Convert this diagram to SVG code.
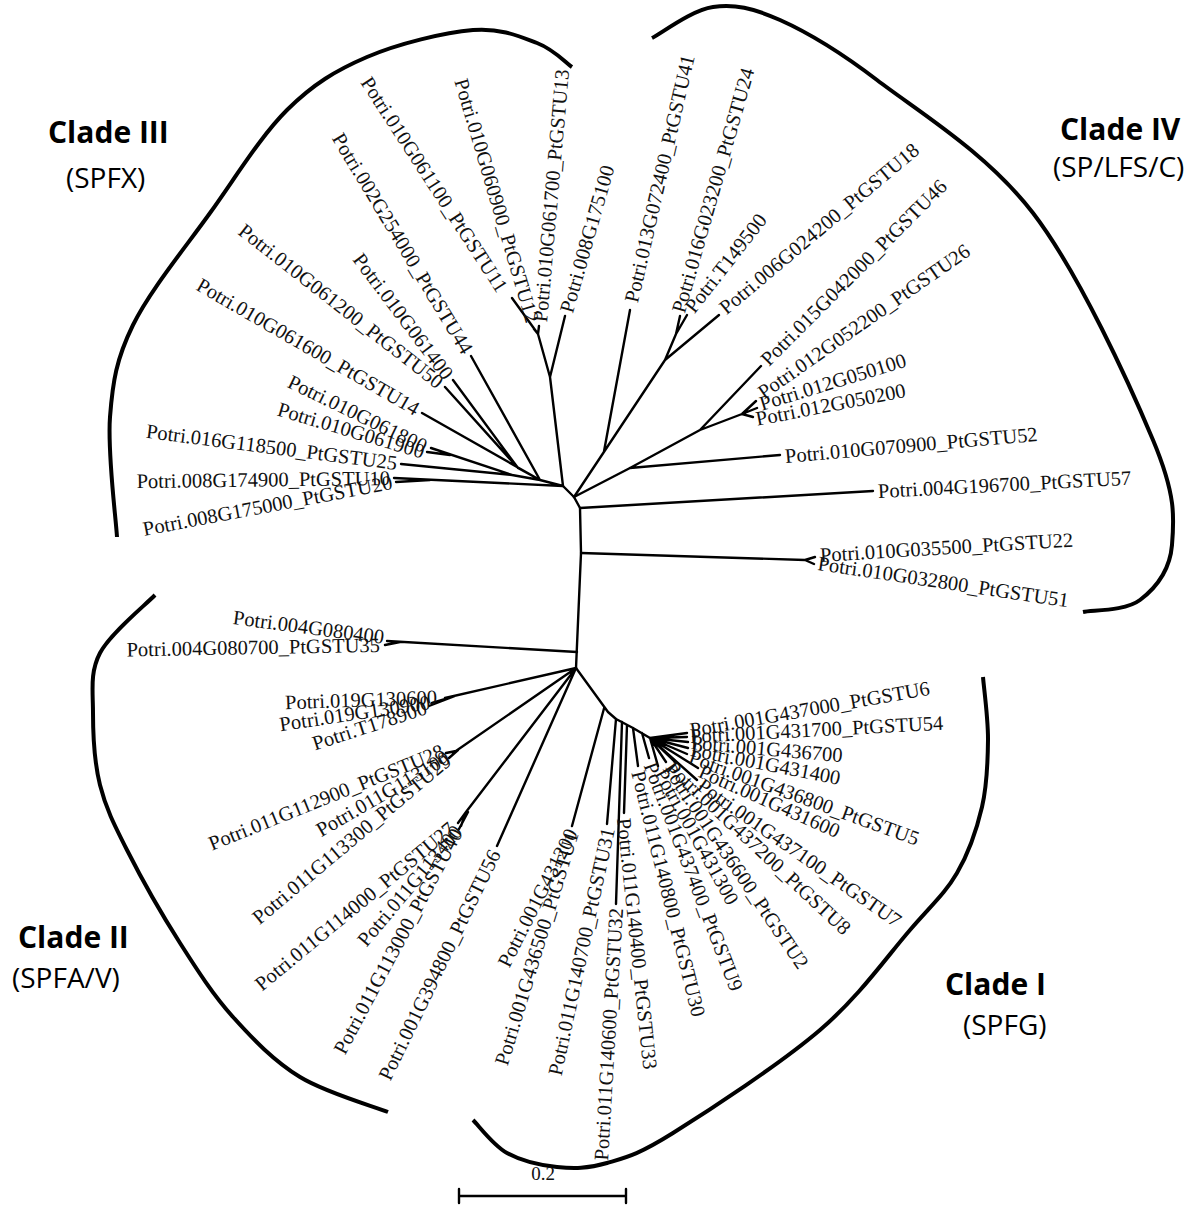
<svg xmlns="http://www.w3.org/2000/svg" width="1196" height="1216" viewBox="0 0 1196 1216">
<style>
.br{fill:none;stroke:#000;stroke-width:2.4;stroke-linecap:round;stroke-linejoin:round}
.arc{fill:none;stroke:#000;stroke-width:4;stroke-linecap:butt}
.l{font-family:"Liberation Serif","Times New Roman",serif;font-size:20.5px;fill:#111;dominant-baseline:central}
.s{text-anchor:start}
.e{text-anchor:end}
.cl{font-family:"Open Sans","Liberation Sans",sans-serif;font-weight:bold;font-size:30px;fill:#000}
.sub{font-family:"Open Sans","Liberation Sans",sans-serif;font-size:28px;fill:#000}
.sc{font-family:"Liberation Serif","Times New Roman",serif;font-size:19px;fill:#111;text-anchor:middle}
</style>
<rect width="1196" height="1216" fill="#fff"/>

<g id="brackets">
<path class="arc" d="M117,537 C115.8,517 107.3,452.3 110,417 C112.7,381.7 116.3,359 133,325 C149.7,291 184.3,248.8 210,213 C235.7,177.2 260.8,136 287,110 C313.2,84 336,70.3 367,57 C398,43.7 444.7,32.3 473,30 C501.3,27.7 520.5,36.8 537,43 C553.5,49.2 566.2,63 572,67"/>
<path class="arc" d="M652,38 C662,33 691.7,10 713,7 C734.3,4 752.7,7.8 780,20 C807.3,32.2 834.8,47.8 877,80 C919.2,112.2 987,153 1033,213 C1079,273 1129.8,384.7 1153,440 C1176.2,495.3 1174.2,518.3 1172,545 C1169.8,571.7 1154.8,588.8 1140,600 C1125.2,611.2 1092.5,610 1083,612"/>
<path class="arc" d="M155,595 C145.8,604.7 110.3,633.3 100,653 C89.7,672.7 93,691 93,713 C93,735 94.3,762.2 100,785 C105.7,807.8 113.7,823.7 127,850 C140.3,876.3 162.3,915.2 180,943 C197.7,970.8 213,994.7 233,1017 C253,1039.3 274.2,1061.2 300,1077 C325.8,1092.8 373.3,1106.2 388,1112"/>
<path class="arc" d="M473,1120 C478.7,1125.5 493,1145.2 507,1153 C521,1160.8 540.3,1165.3 557,1167 C573.7,1168.7 587.7,1168.7 607,1163 C626.3,1157.3 637.5,1155.2 673,1133 C708.5,1110.8 780.5,1063.8 820,1030 C859.5,996.2 887.2,956.2 910,930 C932.8,903.8 945,893.5 957,873 C969,852.5 976.8,829.2 982,807 C987.2,784.8 987.8,761.7 988,740 C988.2,718.3 983.8,687.5 983,677"/>
</g>

<g id="branches">
<path class="br" d="M563,486 L574,497 L580,508 L581,553 L576,668"/>
<path class="br" d="M574,497 L665,360 M603.9,452 L630,310 M665,360 L676,334 L680,316 M676,334 L687,315 M665,360 L719,315"/>
<path class="br" d="M574,497 L630,468 L700,430 M630,468 L780,455 M700,430 L761,366 M700,430 L742,414 L756,401 M742,414 L757,408 M742,414 L753,417"/>
<path class="br" d="M580,508 L873,491 M581,553 L805,560 L815,557 M805,560 L814,564"/>
<path class="br" d="M394,478 L563,486 M396,482 L430,480 M401,464 L512,475 M431,448 L512,475 M427,452 L450,455 M512,475 L540,480 L563,486 M445,387 L518,468 M453,380 L518,468 L540,480 M422,413 L540,480 M471,356 L540,480 M563,486 L550,377 M565,316 L550,377 M550,377 L538,334 M512,298 L538,334 M538,334 L539,326 M538,334 L534,329"/>
<path class="br" d="M577,652 L387,641 M400,642 L385,645 M576,668 L445,698 M452,697 L432,703 M455,696 L429,706 M576,668 L453,753 M456,751 L446,753 M458,750 L449,758 M576,668 L466,812 L458,823 M466,812 L461,826 M468,812 L459,829 M576,668 L497,846"/>
<path class="br" d="M576,668 L608,712 M604.4,707 L572,826 M608,712 L616,719 L633,728 L650,738 M616,719 L607,824 M622,722 L616,904 M627,725 L624,813 M633,728 L638,766 M642,733 L649,758"/>
<path class="br" d="M650,738 L687,733 M650,738 L687,737 M650,738 L688,742 M650,738 L688,748 M650,738 L687,754 M650,738 L698,768 M650,738 L697,780 M650,738 L676,763 M650,738 L666,762 M650,738 L658,766"/>
</g>

<g id="clade-IV-leaves">
<g id="n-013G072400"><text class="l s" transform="translate(631,302) rotate(-77)">Potri.013G072400_PtGSTU41</text></g>
<g id="n-016G023200"><text class="l s" transform="translate(678,312) rotate(-74)">Potri.016G023200_PtGSTU24</text></g>
<g id="n-T149500"><text class="l s" transform="translate(689,310) rotate(-52)">Potri.T149500</text></g>
<g id="n-006G024200"><text class="l s" transform="translate(722,310) rotate(-40)">Potri.006G024200_PtGSTU18</text></g>
<g id="n-015G042000"><text class="l s" transform="translate(764,362) rotate(-45)">Potri.015G042000_PtGSTU46</text></g>
<g id="n-012G052200"><text class="l s" transform="translate(760,394) rotate(-35)">Potri.012G052200_PtGSTU26</text></g>
<g id="n-012G050100"><text class="l s" transform="translate(760,404) rotate(-17)">Potri.012G050100</text></g>
<g id="n-012G050200"><text class="l s" transform="translate(756,419) rotate(-11)">Potri.012G050200</text></g>
<g id="n-010G070900"><text class="l s" transform="translate(785,456) rotate(-5)">Potri.010G070900_PtGSTU52</text></g>
<g id="n-004G196700"><text class="l s" transform="translate(878,491) rotate(-3)">Potri.004G196700_PtGSTU57</text></g>
<g id="n-010G035500"><text class="l s" transform="translate(820,555) rotate(-3.5)">Potri.010G035500_PtGSTU22</text></g>
<g id="n-010G032800"><text class="l s" transform="translate(818,563) rotate(8.5)">Potri.010G032800_PtGSTU51</text></g>
</g>

<g id="clade-III-leaves">
<g id="n-008G175000"><text class="l e" transform="translate(392,482) rotate(-10.7)">Potri.008G175000_PtGSTU20</text></g>
<g id="n-008G174900"><text class="l e" transform="translate(390,478) rotate(-0.7)">Potri.008G174900_PtGSTU10</text></g>
<g id="n-016G118500"><text class="l e" transform="translate(397,463) rotate(7.3)">Potri.016G118500_PtGSTU25</text></g>
<g id="n-010G061900"><text class="l e" transform="translate(424,452) rotate(16.6)">Potri.010G061900</text></g>
<g id="n-010G061800"><text class="l e" transform="translate(426,447) rotate(26)">Potri.010G061800</text></g>
<g id="n-010G061600"><text class="l e" transform="translate(418,410) rotate(30)">Potri.010G061600_PtGSTU14</text></g>
<g id="n-010G061200"><text class="l e" transform="translate(441,384) rotate(38)">Potri.010G061200_PtGSTU50</text></g>
<g id="n-010G061400"><text class="l e" transform="translate(449,377) rotate(53)">Potri.010G061400</text></g>
<g id="n-002G254000"><text class="l e" transform="translate(468,352) rotate(59)">Potri.002G254000_PtGSTU44</text></g>
<g id="n-010G061100"><text class="l e" transform="translate(503,290) rotate(57)">Potri.010G061100_PtGSTU11</text></g>
<g id="n-010G060900"><text class="l e" transform="translate(533,322) rotate(73.5)">Potri.010G060900_PtGSTU12</text></g>
<g id="n-010G061700"><text class="l s" transform="translate(540,322) rotate(-85)">Potri.010G061700_PtGSTU13</text></g>
<g id="n-008G175100"><text class="l s" transform="translate(566,312) rotate(-74)">Potri.008G175100</text></g>
</g>

<g id="clade-II-leaves">
<g id="n-004G080400"><text class="l e" transform="translate(384,637) rotate(7.5)">Potri.004G080400</text></g>
<g id="n-004G080700"><text class="l e" transform="translate(380,645) rotate(-1)">Potri.004G080700_PtGSTU35</text></g>
<g id="n-019G130600"><text class="l e" transform="translate(437,697) rotate(-2)">Potri.019G130600</text></g>
<g id="n-019G130900"><text class="l e" transform="translate(430,702) rotate(-8.4)">Potri.019G130900</text></g>
<g id="n-T178900"><text class="l e" transform="translate(426,707) rotate(-18)">Potri.T178900</text></g>
<g id="n-011G112900"><text class="l e" transform="translate(443,750) rotate(-22)">Potri.011G112900_PtGSTU28</text></g>
<g id="n-011G113100"><text class="l e" transform="translate(448,756) rotate(-30)">Potri.011G113100</text></g>
<g id="n-011G113300"><text class="l e" transform="translate(448,758) rotate(-40)">Potri.011G113300_PtGSTU29</text></g>
<g id="n-011G114000"><text class="l e" transform="translate(452,826) rotate(-39.5)">Potri.011G114000_PtGSTU27</text></g>
<g id="n-011G113400"><text class="l e" transform="translate(458,828) rotate(-50)">Potri.011G113400</text></g>
<g id="n-011G113000"><text class="l e" transform="translate(457,830) rotate(-62)">Potri.011G113000_PtGSTU40</text></g>
<g id="n-001G394800"><text class="l e" transform="translate(495,851) rotate(-64)">Potri.001G394800_PtGSTU56</text></g>
</g>

<g id="clade-I-leaves">
<g id="n-001G431200"><text class="l e" transform="translate(572,830) rotate(-63)">Potri.001G431200</text></g>
<g id="n-001G436500"><text class="l e" transform="translate(572,832) rotate(-73)">Potri.001G436500_PtGSTU1</text></g>
<g id="n-011G140700"><text class="l e" transform="translate(608,828) rotate(-77.8)">Potri.011G140700_PtGSTU31</text></g>
<g id="n-011G140600"><text class="l e" transform="translate(616,908) rotate(-86.6)">Potri.011G140600_PtGSTU32</text></g>
<g id="n-011G140400"><text class="l s" transform="translate(624,818) rotate(84)">Potri.011G140400_PtGSTU33</text></g>
<g id="n-011G140800"><text class="l s" transform="translate(638,771) rotate(76)">Potri.011G140800_PtGSTU30</text></g>
<g id="n-001G437400"><text class="l s" transform="translate(650,763) rotate(69)">Potri.001G437400_PtGSTU9</text></g>
<g id="n-001G431300"><text class="l s" transform="translate(660,770) rotate(61)">Potri.001G431300</text></g>
<g id="n-001G436600"><text class="l s" transform="translate(668,765) rotate(56)">Potri.001G436600_PtGSTU2</text></g>
<g id="n-001G437200"><text class="l s" transform="translate(670,765) rotate(43)">Potri.001G437200_PtGSTU8</text></g>
<g id="n-001G437100"><text class="l s" transform="translate(700,783) rotate(35)">Potri.001G437100_PtGSTU7</text></g>
<g id="n-001G431600"><text class="l s" transform="translate(700,770) rotate(24)">Potri.001G431600</text></g>
<g id="n-001G436800"><text class="l s" transform="translate(690,756) rotate(20)">Potri.001G436800_PtGSTU5</text></g>
<g id="n-001G431400"><text class="l s" transform="translate(691,749) rotate(11)">Potri.001G431400</text></g>
<g id="n-001G436700"><text class="l s" transform="translate(691,742) rotate(5)">Potri.001G436700</text></g>
<g id="n-001G431700"><text class="l s" transform="translate(690,736) rotate(-3)">Potri.001G431700_PtGSTU54</text></g>
<g id="n-001G437000"><text class="l s" transform="translate(690,730) rotate(-10)">Potri.001G437000_PtGSTU6</text></g>
</g>

<g id="clade-labels">
<g id="clade-III"><text class="cl" x="48" y="143">Clade III</text><text class="sub" x="66" y="188">(SPFX)</text></g>
<g id="clade-IV"><text class="cl" x="1060" y="140">Clade IV</text><text class="sub" x="1053" y="177">(SP/LFS/C)</text></g>
<g id="clade-II"><text class="cl" x="18" y="948">Clade II</text><text class="sub" x="12" y="988">(SPFA/V)</text></g>
<g id="clade-I"><text class="cl" x="945" y="995">Clade I</text><text class="sub" x="963" y="1035">(SPFG)</text></g>
</g>

<g id="scale-bar">
<path class="br" d="M459,1196 L626,1196 M459,1189 L459,1203 M626,1189 L626,1203"/>
<text class="sc" x="543" y="1180">0.2</text>
</g>
</svg>
